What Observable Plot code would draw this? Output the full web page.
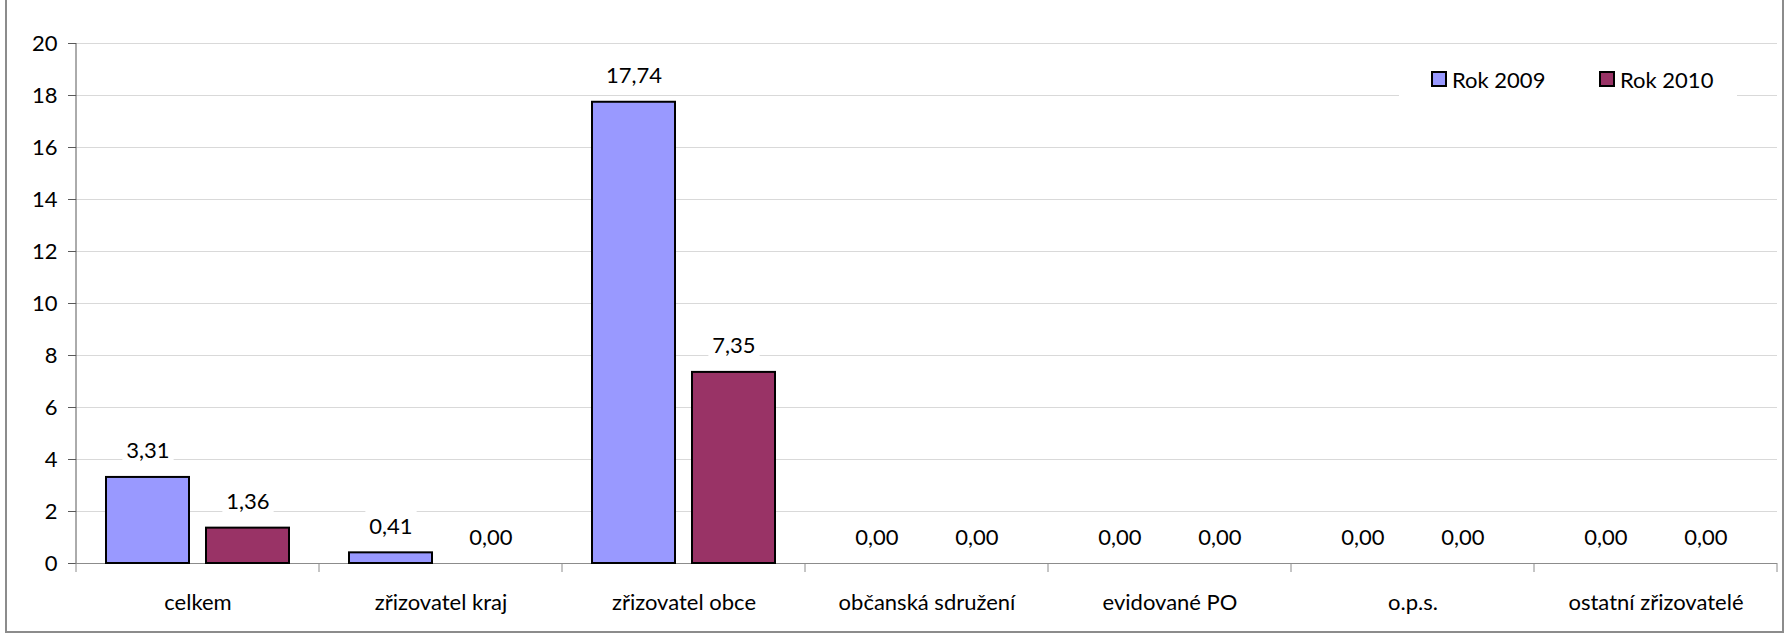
<!DOCTYPE html>
<html>
<head>
<meta charset="utf-8">
<script src="https://cdn.jsdelivr.net/npm/d3@7"></script>
<script src="https://cdn.jsdelivr.net/npm/@observablehq/plot@0.6"></script>
<style>
  html, body { margin: 0; padding: 0; background: #fff; }
  #wrap { position: relative; width: 1787px; height: 634px; overflow: hidden; font-family: Lato, sans-serif; }
  #wrap svg { display: block; }
  #border { position: absolute; left: 5px; top: -5px; width: 1779px; height: 638px; border: 2px solid #8c8c8c; box-sizing: border-box; pointer-events: none; }
  #legend { position: absolute; left: 1399px; top: 56px; width: 338px; height: 46px; background: #fff; }
  .item { position: absolute; top: 0; height: 46px; display: flex; align-items: center; gap: 5px; font-size: 22px; color: #000; }
  .sw { width: 16px; height: 16px; border: 2px solid #000; box-sizing: border-box; }
</style>
</head>
<body>
<div id="wrap">
  <div id="border"></div>
  <div id="legend"></div>
</div>
<script>
const categories = ["celkem", "zřizovatel kraj", "zřizovatel obce", "občanská sdružení", "evidované PO", "o.p.s.", "ostatní zřizovatelé"];
const seriesNames = ["Rok 2009", "Rok 2010"];
const values2009 = [3.31, 0.41, 17.74, 0.00, 0.00, 0.00, 0.00];
const values2010 = [1.36, 0.00, 7.35, 0.00, 0.00, 0.00, 0.00];
const yTicks = [0, 2, 4, 6, 8, 10, 12, 14, 16, 18, 20];
const colors = ["#9999FF", "#993366"];

const table = categories.flatMap((c, i) => [
  {category: c, series: seriesNames[0], value: values2009[i]},
  {category: c, series: seriesNames[1], value: values2010[i]}
]);

const fmt = v => d3.format(".2f")(v).replace(".", ",");

const plot = Plot.plot({
  width: 1787,
  height: 634,
  marginLeft: 76,
  marginRight: 10,
  marginTop: 43,
  marginBottom: 71,
  style: {fontFamily: "Lato, sans-serif", fontSize: "22px", color: "#000", background: "transparent", overflow: "visible"},
  fx: {domain: categories, padding: 0, label: null, axis: null},
  x: {domain: seriesNames, paddingInner: 0.168, paddingOuter: 0.287, axis: null},
  y: {domain: [0, 20], axis: null},
  color: {domain: seriesNames, range: colors},
  marks: [
    Plot.ruleY(yTicks.filter(t => t > 0), {stroke: "#d9d9d9", strokeWidth: 1}),
    Plot.ruleY([0], {stroke: "#8c8c8c", strokeWidth: 1}),
    Plot.barY(table, {fx: "category", x: "series", y: "value", fill: "series", stroke: "#000", strokeWidth: 2, filter: d => d.value > 0}),
    Plot.text(table, {fx: "category", x: "series", y: "value", text: d => fmt(d.value), dy: -26, fill: "#000", fontSize: 22}),
    Plot.axisY(yTicks, {anchor: "left", tickSize: 8, tickPadding: 11, stroke: "#595959", fill: "#000", label: null, fontSize: 22, tickFormat: d => String(d)}),
    Plot.axisFx({anchor: "bottom", tickSize: 0, tickPadding: 31, label: null, fill: "#000", fontSize: 22})
  ]
});

const wrap = document.getElementById("wrap");
wrap.insertBefore(plot, wrap.firstChild);

const svgns = "http://www.w3.org/2000/svg";
const svg = plot.tagName.toLowerCase() === "svg" ? plot : plot.querySelector("svg");

// white boxes behind data labels
svg.querySelectorAll('g[aria-label="text"] text').forEach(t => {
  const b = t.getBBox();
  const cy = b.y + b.height / 2;
  const r = document.createElementNS(svgns, "rect");
  r.setAttribute("x", b.x - 4);
  r.setAttribute("width", b.width + 8);
  r.setAttribute("y", cy - 16);
  r.setAttribute("height", 35);
  r.setAttribute("fill", "#fff");
  const tr = t.getAttribute("transform");
  if (tr) r.setAttribute("transform", tr);
  t.parentNode.insertBefore(r, t);
});

// category separator ticks and y axis line, from the plot's own scales
const fxs = plot.scale("fx");
const ys = plot.scale("y");
const band = d3.scaleBand(fxs.domain, fxs.range).padding(0);
const yl = d3.scaleLinear(ys.domain, ys.range);
const g = d3.select(svg).append("g");
const bounds = fxs.domain.map(c => band(c)).concat([band.range()[1]]);
g.selectAll("line.sep").data(bounds).join("line")
  .attr("x1", d => d).attr("x2", d => d)
  .attr("y1", yl(0)).attr("y2", yl(0) + 9)
  .attr("stroke", "#8c8c8c");
g.append("line")
  .attr("x1", band.range()[0]).attr("x2", band.range()[0])
  .attr("y1", yl(20)).attr("y2", yl(0))
  .attr("stroke", "#595959");

// legend
const legend = document.getElementById("legend");
const lefts = [32, 200];
seriesNames.forEach((s, i) => {
  const it = document.createElement("div");
  it.className = "item";
  it.style.left = lefts[i] + "px";
  const sw = document.createElement("div");
  sw.className = "sw";
  sw.style.background = colors[i];
  const tx = document.createElement("span");
  tx.textContent = s;
  it.appendChild(sw);
  it.appendChild(tx);
  legend.appendChild(it);
});
</script>
</body>
</html>
